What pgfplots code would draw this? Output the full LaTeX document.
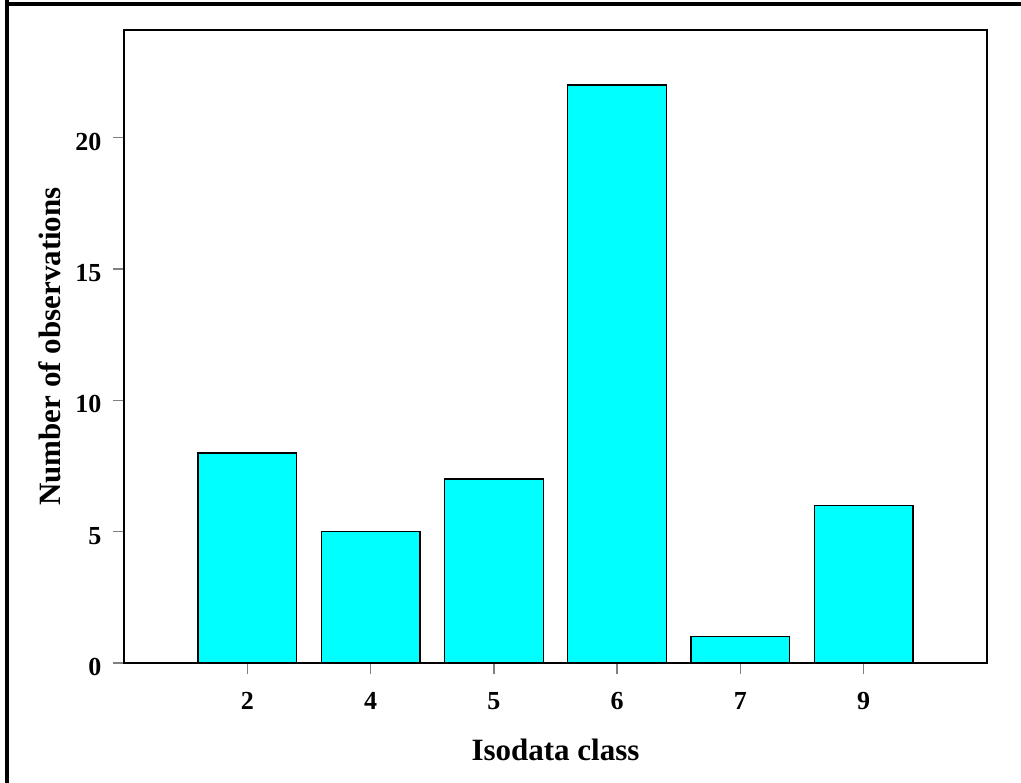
\documentclass[border=0pt]{standalone}
\usepackage{fontspec}
\setmainfont{Liberation Serif}
\usepackage{pgfplots}
\pgfplotsset{compat=1.18}
\definecolor{barcyan}{RGB}{0,255,255}
\begin{document}
\begin{tikzpicture}[x=1pt,y=1pt]
\useasboundingbox (0,0) rectangle (1021,783);
\draw[line width=4pt] (7,783) -- (7,779) -- (1021,779);
\draw[line width=4pt] (7,0) -- (7,781);
\begin{axis}[
  at={(124pt,120pt)}, anchor=south west,
  scale only axis, width=863pt, height=633pt,
  xmin=-1, xmax=6, ymin=0, ymax=24.1,
  axis line style={line width=1.6pt},
  xtick={0,1,2,3,4,5}, xticklabels={2,4,5,6,7,9},
  ytick={0,5,10,15,20},
  tick align=outside, tick pos=left,
  major tick length=11pt,
  every tick/.style={gray, line width=1.5pt},
  /pgf/number format/assume math mode=true,
  tick label style={font=\bfseries\fontsize{26}{26}\selectfont},
  xticklabel style={yshift=-15pt},
  yticklabel style={xshift=-8pt, yshift=-4pt},
  xlabel={Isodata class}, ylabel={Number of observations},
  label style={font=\bfseries\fontsize{31}{31}\selectfont},
  xlabel style={at={(axis description cs:0.5,-0.137)}, anchor=center},
  ylabel style={at={(axis description cs:-0.086,0.5)}, anchor=center},
  clip=false,
]
\addplot[ybar, bar width=0.8, fill=barcyan, draw=black, line width=1.3pt]
  coordinates {(0,8) (1,5) (2,7) (3,22) (4,1) (5,6)};
\end{axis}
\end{tikzpicture}
\end{document}
